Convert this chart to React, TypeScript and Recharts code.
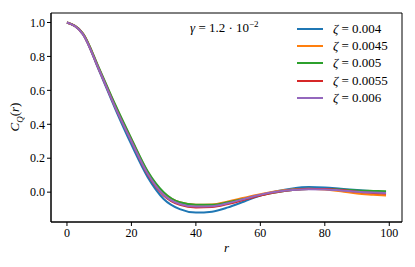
import React from 'react'
import { LineChart, Line, XAxis, YAxis, ReferenceArea } from 'recharts'

// r values sampled along the curves
const rValues = [0, 5, 10, 15, 20, 25, 30, 35, 40, 45, 50, 55, 60, 65, 70, 75, 80, 85, 90, 95, 99]

const zeta004 = [1.0, 0.93, 0.715, 0.49, 0.28, 0.09, -0.04, -0.1, -0.12, -0.115, -0.09, -0.055, -0.02, 0.005, 0.022, 0.03, 0.028, 0.02, 0.012, 0.005, 0.0]
const zeta0045 = [1.0, 0.935, 0.725, 0.51, 0.31, 0.12, -0.005, -0.06, -0.075, -0.073, -0.055, -0.033, -0.012, 0.005, 0.015, 0.02, 0.015, 0.005, -0.008, -0.015, -0.02]
const zeta005 = [1.0, 0.935, 0.73, 0.515, 0.315, 0.125, 0.0, -0.06, -0.075, -0.075, -0.06, -0.04, -0.018, 0.0, 0.012, 0.018, 0.018, 0.015, 0.01, 0.007, 0.005]
const zeta0055 = [1.0, 0.93, 0.72, 0.5, 0.3, 0.105, -0.02, -0.075, -0.09, -0.088, -0.07, -0.045, -0.02, 0.0, 0.012, 0.018, 0.018, 0.012, 0.003, -0.005, -0.01]
const zeta006 = [1.0, 0.93, 0.72, 0.5, 0.3, 0.11, -0.015, -0.07, -0.085, -0.083, -0.065, -0.04, -0.015, 0.002, 0.012, 0.017, 0.016, 0.01, 0.003, -0.002, -0.005]

const seriesNames = ['0.004', '0.0045', '0.005', '0.0055', '0.006']
const seriesColors = ['#1f77b4', '#ff7f0e', '#2ca02c', '#d62728', '#9467bd']
const xTicks = [0, 20, 40, 60, 80, 100]
const yTicks = [0, 0.2, 0.4, 0.6, 0.8, 1.0]

const data = rValues.map((r, i) => ({
  r,
  s0: zeta004[i],
  s1: zeta0045[i],
  s2: zeta005[i],
  s3: zeta0055[i],
  s4: zeta006[i],
}))

const FONT = '"Liberation Serif", "DejaVu Serif", serif'
const X_DOMAIN: [number, number] = [-4.95, 103.95]
const Y_DOMAIN: [number, number] = [-0.176, 1.056]

export default function App() {
  return (
    <div style={{ position: 'absolute', left: 0, top: 0, width: 415, height: 267, background: '#fff', fontFamily: FONT }}>
      <LineChart width={415} height={267} data={data} margin={{ top: 13, right: 13, bottom: 15, left: 11 }}>
        <XAxis
          dataKey="r"
          type="number"
          domain={X_DOMAIN}
          ticks={xTicks}
          allowDataOverflow
          height={30}
          tickSize={4}
          stroke="#000"
          tick={{ fill: '#000', fontSize: 12, fontFamily: FONT }}
        />
        <YAxis
          type="number"
          domain={Y_DOMAIN}
          ticks={yTicks}
          allowDataOverflow
          width={40}
          tickSize={4}
          stroke="#000"
          tickFormatter={(v: number) => v.toFixed(1)}
          tick={{ fill: '#000', fontSize: 12, fontFamily: FONT }}
        />
        <ReferenceArea
          x1={X_DOMAIN[0]}
          x2={X_DOMAIN[1]}
          y1={Y_DOMAIN[0]}
          y2={Y_DOMAIN[1]}
          fill="none"
          stroke="#000"
          strokeWidth={1}
          ifOverflow="visible"
        />
        {seriesNames.map((name, i) => (
          <Line
            key={name}
            dataKey={`s${i}`}
            type="monotone"
            stroke={seriesColors[i]}
            strokeWidth={2}
            dot={false}
            isAnimationActive={false}
          />
        ))}
      </LineChart>
      {/* legend */}
      <div style={{ position: 'absolute', left: 297, top: 20, fontSize: 13, color: '#000' }}>
        {seriesNames.map((name, i) => (
          <div key={name} style={{ display: 'flex', alignItems: 'center', height: 17.4 }}>
            <div style={{ width: 26, height: 2, background: seriesColors[i], marginRight: 10 }} />
            <span style={{ whiteSpace: 'nowrap' }}>
              <i>ζ</i> = {name}
            </span>
          </div>
        ))}
      </div>
      <div style={{ position: 'absolute', left: 190, top: 19, fontSize: 13, color: '#000', whiteSpace: 'nowrap' }}>
        <i>γ</i> = 1.2 · 10<sup style={{ fontSize: 9 }}>−2</sup>
      </div>
      <div
        style={{
          position: 'absolute',
          left: 16,
          top: 117,
          transform: 'translate(-50%, -50%) rotate(-90deg)',
          fontSize: 13,
          color: '#000',
          whiteSpace: 'nowrap',
        }}
      >
        <i>C</i>
        <sub style={{ fontSize: 9 }}><i>Q</i></sub>(<i>r</i>)
      </div>
      <div style={{ position: 'absolute', left: 224, top: 240, fontSize: 13, fontStyle: 'italic', color: '#000' }}>
        r
      </div>
    </div>
  )
}
